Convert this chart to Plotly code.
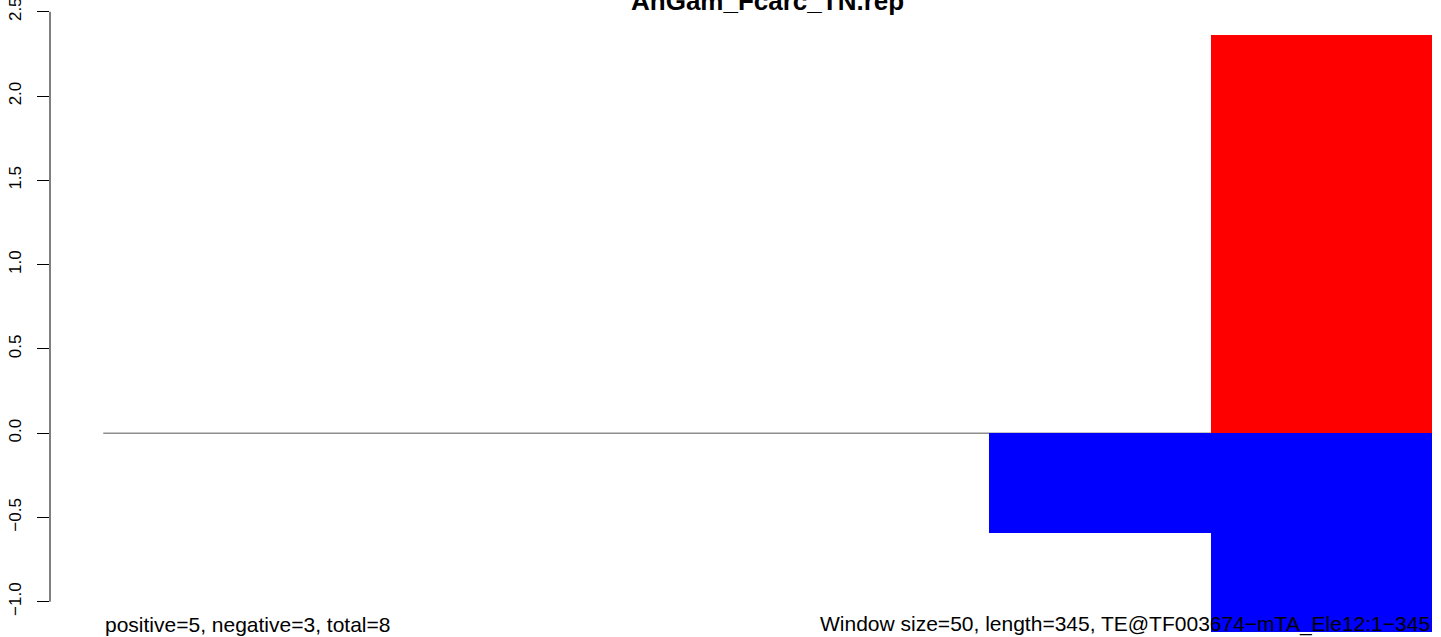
import plotly.graph_objects as go

# ---- data ----
window_size = 50
seq_length = 345
window_starts = [0, 50, 100, 150, 200, 250]
pos_values = [0, 0, 0, 0, 0, 2.36]
neg_values = [0, 0, 0, 0, -0.59, -1.18]
y_ticks = [-1.0, -0.5, 0.0, 0.5, 1.0, 1.5, 2.0, 2.5]
y_tick_labels = ["\u22121.0", "\u22120.5", "0.0", "0.5", "1.0", "1.5", "2.0", "2.5"]
title_text = "AnGam_Fcarc_TN.rep"
left_note = "positive=5, negative=3, total=8"
right_note = "Window size=50, length=345, TE@TF003674\u2212mTA_Ele12:1\u2212345"

centers = [s + window_size / 2 for s in window_starts]
x_end = window_starts[-1] + window_size

FONT = "Liberation Sans, Arial, Helvetica, sans-serif"

fig = go.Figure()
fig.add_trace(go.Bar(x=centers, y=pos_values, width=window_size,
                     marker=dict(color="#FF0000", line=dict(width=0)),
                     showlegend=False, hoverinfo="skip"))
fig.add_trace(go.Bar(x=centers, y=neg_values, width=window_size,
                     marker=dict(color="#0000FF", line=dict(width=0)),
                     showlegend=False, hoverinfo="skip"))

# zero line under bars
fig.add_shape(type="line", xref="x", yref="y", x0=window_starts[0], x1=x_end,
              y0=0, y1=0, line=dict(color="#555555", width=1), layer="below")
# R-style y axis line spanning first to last tick
fig.add_shape(type="line", xref="paper", yref="y", x0=0, x1=0,
              y0=y_ticks[0], y1=y_ticks[-1], line=dict(color="black", width=1))

fig.add_annotation(text="<b>" + title_text + "</b>", xref="x", yref="paper",
                   x=(window_starts[0] + x_end) / 2, y=1, xanchor="center",
                   yanchor="bottom", yshift=-7, showarrow=False,
                   font=dict(family=FONT, size=26, color="black"))
fig.add_annotation(text=left_note, xref="x", yref="paper", x=window_starts[0], y=0,
                   xanchor="left", yanchor="bottom", yshift=-1, showarrow=False,
                   font=dict(family=FONT, size=21, color="black"))
fig.add_annotation(text=right_note, xref="x", yref="paper", x=x_end, y=0,
                   xanchor="right", yanchor="bottom", yshift=-1, showarrow=False,
                   font=dict(family=FONT, size=21, color="black"))

fig.update_layout(
    width=1441, height=637,
    margin=dict(l=50, r=0, t=11, b=0, pad=0),
    paper_bgcolor="white", plot_bgcolor="white",
    barmode="overlay", bargap=0,
    xaxis=dict(visible=False, range=[-12.03, 302.0], showgrid=False, zeroline=False),
    yaxis=dict(range=[-1.2094, 2.5047], showgrid=False, zeroline=False,
               showline=False, automargin=False,
               tickmode="array", tickvals=y_ticks, ticktext=y_tick_labels,
               ticks="outside", ticklen=12, tickwidth=1, tickcolor="black",
               tickangle=-90, ticklabelstandoff=9, ticklabeloverflow="allow",
               tickfont=dict(family=FONT, size=17, color="black")),
    font=dict(family=FONT),
)

fig.write_html("out.html", config={"displayModeBar": False},
               post_script="document.body.style.margin='0';document.body.style.overflow='hidden';")
